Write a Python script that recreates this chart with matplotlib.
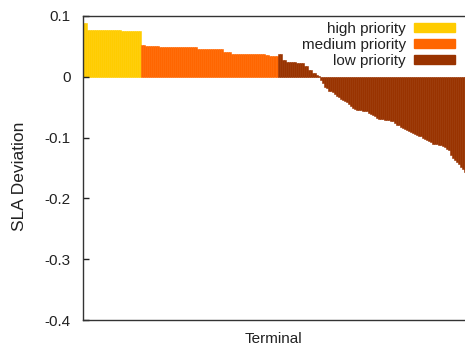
# SLA deviation per terminal, sorted by priority class
import matplotlib
matplotlib.use("Agg")
import matplotlib.pyplot as plt
from matplotlib.patches import Patch
from matplotlib.ticker import FuncFormatter

plt.rcParams['font.family'] = ['Liberation Sans', 'DejaVu Sans']

# values, one per terminal
high = [0.089, 0.088, 0.0775, 0.0775, 0.0774, 0.0772, 0.0772, 0.0771, 0.0771, 0.0770,
        0.0770, 0.0770, 0.0769, 0.0769, 0.0768, 0.0768, 0.0768, 0.0767, 0.0767, 0.0757,
        0.0757, 0.0756, 0.0756, 0.0756, 0.0755, 0.0755, 0.0755, 0.0754, 0.0754]

medium = [0.0526, 0.0524,
          0.0512, 0.0511, 0.0510, 0.0510, 0.0509, 0.0509, 0.0508,
          0.0492, 0.0491, 0.0491, 0.0490, 0.0490, 0.0489, 0.0489, 0.0489, 0.0488, 0.0488,
          0.0485, 0.0485, 0.0484, 0.0484, 0.0484, 0.0483, 0.0483, 0.0483, 0.0482,
          0.0462, 0.0461, 0.0461, 0.0460, 0.0459, 0.0455, 0.0455, 0.0454, 0.0454, 0.0453,
          0.0453, 0.0452, 0.0452,
          0.0402, 0.0401, 0.0400, 0.0400,
          0.0382, 0.0381, 0.0380, 0.0380, 0.0379, 0.0379, 0.0378, 0.0378, 0.0378, 0.0377,
          0.0377, 0.0376, 0.0376, 0.0375, 0.0375, 0.0374, 0.0374,
          0.0352, 0.0351, 0.0350, 0.0350, 0.0349, 0.0349]

low = [0.038, 0.038, 0.028, 0.027, 0.025, 0.0248, 0.0246, 0.0245, 0.0243, 0.0226,
       0.0225, 0.0223, 0.0222, 0.018, 0.017, 0.012, 0.011, 0.007, 0.006, 0.003,
       0.0005, -0.006, -0.010, -0.016, -0.019, -0.023, -0.024, -0.025, -0.028, -0.031,
       -0.033, -0.036, -0.038, -0.040, -0.042, -0.045, -0.048, -0.051, -0.053, -0.054,
       -0.055, -0.055, -0.056, -0.057, -0.057, -0.060, -0.062, -0.063, -0.065, -0.067,
       -0.069, -0.070, -0.070, -0.071, -0.071, -0.071, -0.072, -0.072, -0.076, -0.079,
       -0.080, -0.082, -0.084, -0.086, -0.088, -0.089, -0.090, -0.092, -0.094, -0.095,
       -0.097, -0.098, -0.100, -0.102, -0.104, -0.106, -0.108, -0.110, -0.111, -0.111,
       -0.112, -0.112, -0.113, -0.115, -0.118, -0.121, -0.128, -0.133, -0.137, -0.140,
       -0.144, -0.148, -0.152, -0.156]

labels = ['high priority', 'medium priority', 'low priority']
colors = ['#ffcc00', '#ff6600', '#993300']
y_ticks = [0.1, 0, -0.1, -0.2, -0.3, -0.4]

fig = plt.figure(figsize=(4.65, 3.45), dpi=100)
ax = fig.add_axes([83 / 465, 25 / 345, 383 / 465, 304 / 345])

start = 0
for vals, c in zip([high, medium, low], colors):
    xs = [start + i + 0.5 for i in range(len(vals))]
    ax.bar(xs, vals, width=1.0, color=c, edgecolor=c, linewidth=0.4)
    start += len(vals)

ax.set_xlim(0, start)
ax.set_ylim(-0.4, 0.1)
ax.set_xticks([])
ax.set_yticks(y_ticks)
ax.yaxis.set_major_formatter(FuncFormatter(lambda v, p: '0' if abs(v) < 1e-9 else ('%g' % v)))
ax.tick_params(axis='y', direction='in', length=4, width=1, pad=9, labelsize=11,
               colors='#222222')

for s in ['left', 'bottom', 'top']:
    ax.spines[s].set_color('#333333')
    ax.spines[s].set_linewidth(1.0)
ax.spines['right'].set_visible(False)

ax.set_ylabel('SLA Deviation', fontsize=12.5, color='#222222')
ax.yaxis.set_label_coords(-0.147, 0.474)
ax.set_xlabel('Terminal', fontsize=11, color='#222222')
ax.xaxis.set_label_coords(0.497, -0.04)

handles = [Patch(facecolor=c, edgecolor=c) for c in colors]
ax.legend(handles, labels, loc='upper right', bbox_to_anchor=(0.988, 1.0),
          frameon=False, markerfirst=False, fontsize=11, handlelength=2.7,
          handleheight=0.55, labelspacing=0.12, handletextpad=0.55,
          borderaxespad=0.0, labelcolor='#222222')

fig.savefig('out.png', dpi=100)
